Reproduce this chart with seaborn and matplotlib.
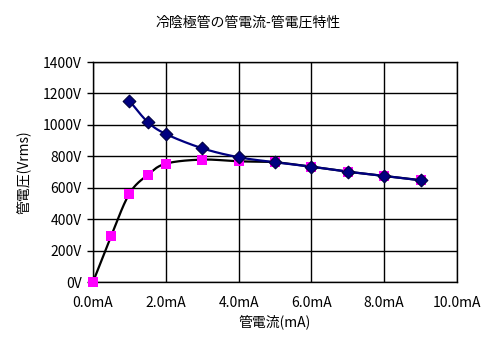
import numpy as np
import pandas as pd
import matplotlib
matplotlib.use("Agg")
import matplotlib.pyplot as plt
import seaborn as sns

# data
current_pink = [0.0, 0.5, 1.0, 1.5, 2.0, 3.0, 4.0, 5.0, 6.0, 7.0, 8.0, 9.0]
voltage_pink = [0, 294, 562, 681, 753, 779, 768, 762, 733, 702, 675, 648]
current_blue = [1.0, 1.5, 2.0, 3.0, 4.0, 5.0, 6.0, 7.0, 8.0, 9.0]
voltage_blue = [1153, 1019, 942, 851, 794, 762, 734, 702, 675, 647]
x_ticks = [0, 2, 4, 6, 8, 10]
x_labels = ["0.0mA", "2.0mA", "4.0mA", "6.0mA", "8.0mA", "10.0mA"]
y_ticks = [0, 200, 400, 600, 800, 1000, 1200, 1400]
y_labels = ["0V", "200V", "400V", "600V", "800V", "1000V", "1200V", "1400V"]

sns.set_theme(style="white")
plt.rcParams['font.family'] = ['Noto Sans CJK JP', 'DejaVu Sans']


def smooth(xs, ys, n=20):
    xs = np.asarray(xs, float); ys = np.asarray(ys, float)
    P = np.column_stack([xs, ys])
    P = np.vstack([2 * P[0] - P[1], P, 2 * P[-1] - P[-2]])
    out = []
    for i in range(1, len(P) - 2):
        p0, p1, p2, p3 = P[i - 1], P[i], P[i + 1], P[i + 2]
        t = np.linspace(0, 1, n, endpoint=False)[:, None]
        seg = 0.5 * ((2 * p1) + (-p0 + p2) * t + (2 * p0 - 5 * p1 + 4 * p2 - p3) * t ** 2
                     + (-p0 + 3 * p1 - 3 * p2 + p3) * t ** 3)
        out.append(seg)
    out.append(P[-2][None, :])
    S = np.vstack(out)
    return S[:, 0], S[:, 1]


fig = plt.figure(figsize=(4.97, 3.52), dpi=100)
ax = fig.add_axes([93 / 497, 70 / 352, 364 / 497, 220 / 352])

sx, sy = smooth(current_pink, voltage_pink)
ax.plot(sx, sy, color="black", lw=1.6, zorder=2)
bx, by = smooth(current_blue, voltage_blue)
ax.plot(bx, by, color="#000080", lw=1.6, zorder=3)

df_p = pd.DataFrame({"x": current_pink, "y": voltage_pink})
df_b = pd.DataFrame({"x": current_blue, "y": voltage_blue})
sns.scatterplot(data=df_p, x="x", y="y", ax=ax, marker="s", s=60, color="#FF00FF",
                edgecolor="#FF00FF", linewidth=0, zorder=4, clip_on=False)
sns.scatterplot(data=df_b, x="x", y="y", ax=ax, marker="D", s=42, color="#000080",
                edgecolor="#000040", linewidth=0.8, zorder=5, clip_on=False)

ax.set_xlim(0, 10)
ax.set_ylim(0, 1400)
ax.set_xticks(x_ticks)
ax.set_xticklabels(x_labels)
ax.set_yticks(y_ticks)
ax.set_yticklabels(y_labels)
ax.grid(True, color="black", lw=1.0)
ax.set_axisbelow(True)
for s in ax.spines.values():
    s.set_color("black")
    s.set_linewidth(1.0)
ax.tick_params(axis="y", which="major", direction="out", length=4, width=1, color="black",
               left=True, labelsize=10, pad=4, labelcolor="black")
ax.tick_params(axis="x", which="major", length=0, labelsize=10, pad=10, labelcolor="black")
ax.set_xlabel("管電流(mA)", fontsize=10, color="black", labelpad=3)
ax.set_ylabel("管電圧(Vrms)", fontsize=10, color="black", labelpad=8)
fig.suptitle("冷陰極管の管電流-管電圧特性", fontsize=10, y=0.955, color="black")

fig.savefig("out.png", dpi=100)
